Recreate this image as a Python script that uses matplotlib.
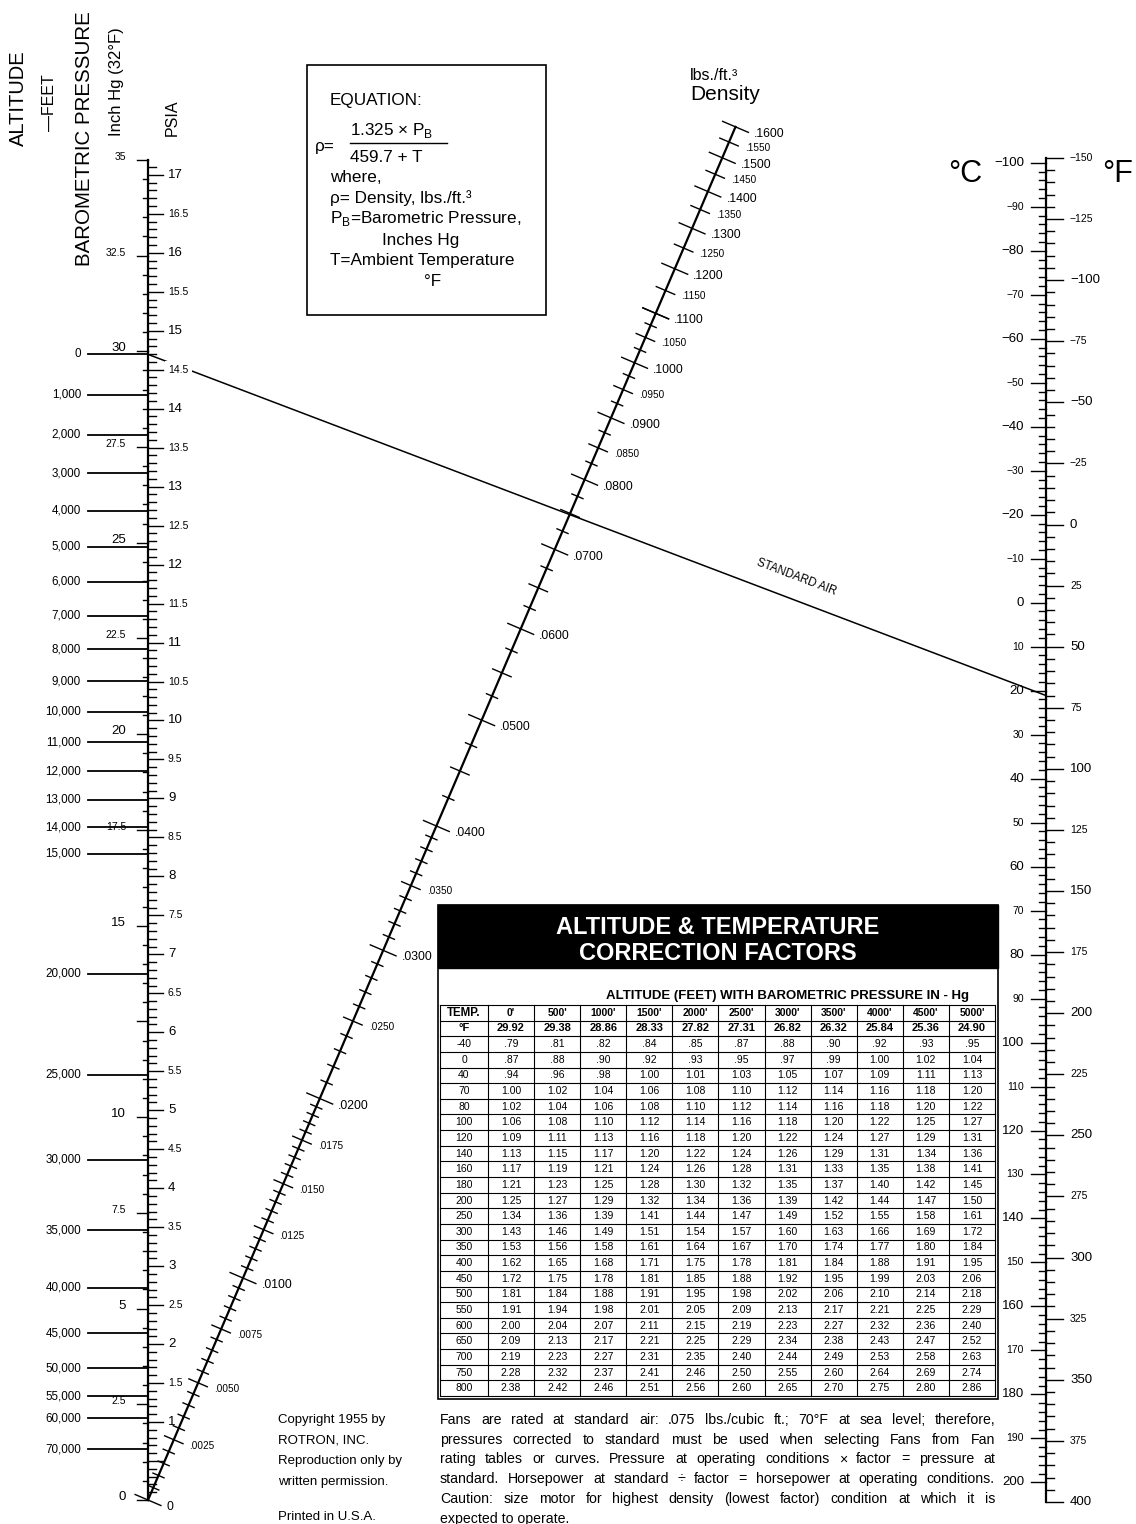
import numpy as np
import matplotlib.pyplot as plt
from matplotlib.patches import Rectangle

plt.rcParams['font.family'] = ['Liberation Sans', 'DejaVu Sans']
plt.rcParams['mathtext.fontset'] = 'custom'
plt.rcParams['mathtext.rm'] = 'Liberation Sans'

# ---- scale data ----
inhg_labels = [35, 32.5, 30, 27.5, 25, 22.5, 20, 17.5, 15, 10, 7.5, 5, 2.5, 0]
psia_labels = [17, 16.5, 16, 15.5, 15, 14.5, 14, 13.5, 13, 12.5, 12, 11.5, 11, 10.5, 10,
               9.5, 9, 8.5, 8, 7.5, 7, 6.5, 6, 5.5, 5, 4.5, 4, 3.5, 3, 2.5, 2, 1.5, 1]
alt_feet = [0, 1000, 2000, 3000, 4000, 5000, 6000, 7000, 8000, 9000, 10000, 11000, 12000,
            13000, 14000, 15000, 20000, 25000, 30000, 35000, 40000, 45000, 50000, 55000,
            60000, 70000]
alt_inhg = [29.92, 28.86, 27.82, 26.82, 25.84, 24.90, 23.98, 23.09, 22.22, 21.38, 20.58,
            19.79, 19.03, 18.29, 17.57, 16.88, 13.75, 11.10, 8.89, 7.04, 5.54, 4.36, 3.44,
            2.71, 2.14, 1.33]
dens_labels = [.16, .155, .15, .145, .14, .135, .13, .125, .12, .115, .11, .105, .10, .095,
               .09, .085, .08, .07, .06, .05, .04, .035, .03, .025, .02, .0175, .015, .0125,
               .01, .0075, .005, .0025, 0]
degf_labels = [-150, -125, -100, -75, -50, -25, 0, 25, 50, 75, 100, 125, 150, 175, 200, 225,
               250, 275, 300, 325, 350, 375, 400]
degc_labels = list(range(-100, 201, 10))
std_air_inhg = 29.92
std_air_f = 70

# ---- table data ----
tab_alt = ["0'", "500'", "1000'", "1500'", "2000'", "2500'", "3000'", "3500'", "4000'",
           "4500'", "5000'"]
tab_baro = [29.92, 29.38, 28.86, 28.33, 27.82, 27.31, 26.82, 26.32, 25.84, 25.36, 24.90]
tab_temp = [-40, 0, 40, 70, 80, 100, 120, 140, 160, 180, 200, 250, 300, 350, 400, 450, 500,
            550, 600, 650, 700, 750, 800]
tab_fac = [
    [.79, .81, .82, .84, .85, .87, .88, .90, .92, .93, .95],
    [.87, .88, .90, .92, .93, .95, .97, .99, 1.00, 1.02, 1.04],
    [.94, .96, .98, 1.00, 1.01, 1.03, 1.05, 1.07, 1.09, 1.11, 1.13],
    [1.00, 1.02, 1.04, 1.06, 1.08, 1.10, 1.12, 1.14, 1.16, 1.18, 1.20],
    [1.02, 1.04, 1.06, 1.08, 1.10, 1.12, 1.14, 1.16, 1.18, 1.20, 1.22],
    [1.06, 1.08, 1.10, 1.12, 1.14, 1.16, 1.18, 1.20, 1.22, 1.25, 1.27],
    [1.09, 1.11, 1.13, 1.16, 1.18, 1.20, 1.22, 1.24, 1.27, 1.29, 1.31],
    [1.13, 1.15, 1.17, 1.20, 1.22, 1.24, 1.26, 1.29, 1.31, 1.34, 1.36],
    [1.17, 1.19, 1.21, 1.24, 1.26, 1.28, 1.31, 1.33, 1.35, 1.38, 1.41],
    [1.21, 1.23, 1.25, 1.28, 1.30, 1.32, 1.35, 1.37, 1.40, 1.42, 1.45],
    [1.25, 1.27, 1.29, 1.32, 1.34, 1.36, 1.39, 1.42, 1.44, 1.47, 1.50],
    [1.34, 1.36, 1.39, 1.41, 1.44, 1.47, 1.49, 1.52, 1.55, 1.58, 1.61],
    [1.43, 1.46, 1.49, 1.51, 1.54, 1.57, 1.60, 1.63, 1.66, 1.69, 1.72],
    [1.53, 1.56, 1.58, 1.61, 1.64, 1.67, 1.70, 1.74, 1.77, 1.80, 1.84],
    [1.62, 1.65, 1.68, 1.71, 1.75, 1.78, 1.81, 1.84, 1.88, 1.91, 1.95],
    [1.72, 1.75, 1.78, 1.81, 1.85, 1.88, 1.92, 1.95, 1.99, 2.03, 2.06],
    [1.81, 1.84, 1.88, 1.91, 1.95, 1.98, 2.02, 2.06, 2.10, 2.14, 2.18],
    [1.91, 1.94, 1.98, 2.01, 2.05, 2.09, 2.13, 2.17, 2.21, 2.25, 2.29],
    [2.00, 2.04, 2.07, 2.11, 2.15, 2.19, 2.23, 2.27, 2.32, 2.36, 2.40],
    [2.09, 2.13, 2.17, 2.21, 2.25, 2.29, 2.34, 2.38, 2.43, 2.47, 2.52],
    [2.19, 2.23, 2.27, 2.31, 2.35, 2.40, 2.44, 2.49, 2.53, 2.58, 2.63],
    [2.28, 2.32, 2.37, 2.41, 2.46, 2.50, 2.55, 2.60, 2.64, 2.69, 2.74],
    [2.38, 2.42, 2.46, 2.51, 2.56, 2.60, 2.65, 2.70, 2.75, 2.80, 2.86],
]

notes = ["Fans are rated at standard air: .075 lbs./cubic ft.; 70°F at sea level; therefore,",
         "pressures corrected to standard must be used when selecting Fans from Fan",
         "rating tables or curves. Pressure at operating conditions × factor = pressure at",
         "standard. Horsepower at standard ÷ factor = horsepower at operating conditions.",
         "Caution: size motor for highest density (lowest factor) condition at which it is",
         "expected to operate."]
copyright = ["Copyright 1955 by", "ROTRON, INC.", "Reproduction only by", "written permission."]

# ---- nomogram scales (page units) ----
XL, XR = 148, 1046
YP0, BP = 1500, 38.29      # inHg scale
YT0, DT = 524.5, 2.4436    # deg F scale
PSI_PER_INHG = 0.4912


def y_p(p):
    return YP0 - BP * p


def y_psi(v):
    return y_p(v / PSI_PER_INHG)


def y_f(t):
    return YT0 + DT * t


def y_c(c):
    return y_f(c * 1.8 + 32)


def rho_xy(r):
    bk = BP * r / 1.325
    s = bk / (DT + bk)
    return XL + s * (XR - XL), (1 - s) * YP0 - 459.7 * s * DT + s * YT0


fig = plt.figure(figsize=(11.36, 15.24), dpi=100)
ax = fig.add_axes([0, 0, 1, 1])
ax.set_xlim(0, 1136)
ax.set_ylim(1524, 0)
ax.axis('off')
K = 'black'

# ---- left scale ----
ax.plot([XL, XL], [y_p(35), y_p(0)], color=K, lw=1.6)
for p in np.arange(0, 35.01, 0.5):
    big = abs(p / 2.5 - round(p / 2.5)) < 1e-6
    ax.plot([XL - (11 if big else 5), XL], [y_p(p)] * 2, color=K, lw=1.0)
for v in np.arange(0.1, 17.15, 0.1):
    big = abs(v * 2 - round(v * 2)) < 1e-6
    ax.plot([XL, XL + (15 if big else 8)], [y_psi(v)] * 2, color=K, lw=1.0)
for p in inhg_labels:
    txt = '0' if p == 0 else ('%g' % p)
    sz = 9.5 if (p % 5 == 0 and p not in (35,)) else 7.5
    ax.text(XL - 22, y_p(p) - 3, txt, ha='right', va='center', fontsize=sz)
for v in psia_labels:
    if v == 14.5:
        continue
    sz = 9.5 if v == int(v) else 7.5
    ax.text(XL + 20, y_psi(v), '%g' % v, ha='left', va='center', fontsize=sz)
for h, p in zip(alt_feet, alt_inhg):
    ax.plot([88, XL], [y_p(p)] * 2, color=K, lw=1.3)
    ax.text(81, y_p(p), '0' if h == 0 else f'{h:,}', ha='right', va='center', fontsize=8.4)

# ---- standard air line ----
ax.plot([XL, XR], [y_p(std_air_inhg), y_f(std_air_f)], color=K, lw=1.1, zorder=1)
ang = -np.degrees(np.arctan2(y_f(std_air_f) - y_p(std_air_inhg), XR - XL))
ax.text(796, 577, 'STANDARD AIR', rotation=ang, ha='center', va='center', fontsize=8.3,
        rotation_mode='anchor')
# 14.5 label sits over the line, with a white gap
ax.text(XL + 20, y_psi(14.5), '14.5', ha='left', va='center', fontsize=7.5, zorder=3,
        bbox=dict(facecolor='white', edgecolor='none', pad=2.5))

# ---- density scale ----
x0, y0 = rho_xy(0)
x1, y1 = rho_xy(.16)
ax.plot([x0, x1], [y0, y1], color=K, lw=1.6)
u = np.array([x1 - x0, y1 - y0]) / np.hypot(x1 - x0, y1 - y0)
n = np.array([-u[1], u[0]])
ticks = np.concatenate([np.arange(0, .02, .0005), np.arange(.02, .04, .001),
                        np.arange(.04, .11, .0025), np.arange(.11, .1601, .005)])
for r in ticks:
    r = round(r, 5)
    if abs(r * 100 - round(r * 100)) < 1e-6:
        half = 14
    elif abs(r * 200 - round(r * 200)) < 1e-6 or (abs(r * 400 - round(r * 400)) < 1e-6 and r < .02):
        half = 10
    else:
        half = 6
    if r >= .11 and half == 6:
        half = 9
    px, py = rho_xy(r)
    ax.plot([px - n[0] * half, px + n[0] * half], [py - n[1] * half, py + n[1] * half],
            color=K, lw=1.0)
for r in dens_labels:
    px, py = rho_xy(r)
    big = abs(r * 100 - round(r * 100)) < 1e-6
    off = 18 if big else 15
    txt = '0' if r == 0 else ('%.4f' % r)[1:]
    ax.text(px + n[0] * off + 2, py + n[1] * off, txt, ha='left', va='center',
            fontsize=8.8 if big else 7.2)
ax.text(690, 76, 'lbs./ft.³', ha='left', va='center', fontsize=11.5)
ax.text(690, 95, 'Density', ha='left', va='center', fontsize=15)

# ---- temperature scale ----
ax.plot([XR, XR], [y_f(-150), y_f(400)], color=K, lw=1.6)
for t in range(-150, 401, 5):
    ax.plot([XR, XR + (17 if t % 25 == 0 else 8)], [y_f(t)] * 2, color=K, lw=1.0)
for c in range(-100, 201, 2):
    ax.plot([XR - (15 if c % 10 == 0 else 7), XR], [y_c(c)] * 2, color=K, lw=1.0)
for t in degf_labels:
    big = t % 50 == 0 and t != -150
    txt = ('−%d' % -t) if t < 0 else str(t)
    ax.text(XR + 24, y_f(t), txt, ha='left', va='center', fontsize=9.5 if big else 7.5)
for c in degc_labels:
    big = c % 20 == 0
    txt = ('−%d' % -c) if c < 0 else str(c)
    ax.text(XR - 22, y_c(c), txt, ha='right', va='center', fontsize=9.5 if big else 7.5)
ax.text(965, 174, '°C', ha='center', va='center', fontsize=22)
ax.text(1118, 174, '°F', ha='center', va='center', fontsize=22)

# ---- left titles ----
ax.text(18, 146, 'ALTITUDE', rotation=90, ha='center', va='bottom', fontsize=14.5)
ax.text(50, 131, '—FEET', rotation=90, ha='center', va='bottom', fontsize=11.5)
ax.text(84, 266, 'BAROMETRIC PRESSURE', rotation=90, ha='center', va='bottom', fontsize=14.8)
ax.text(116, 136, 'Inch Hg (32°F)', rotation=90, ha='center', va='bottom', fontsize=12)
ax.text(172, 136, 'PSIA', rotation=90, ha='center', va='bottom', fontsize=11.5)

# ---- equation box ----
ax.add_patch(Rectangle((307, 65), 239, 250, fill=False, edgecolor=K, lw=1.2))
eq = 12.3
ax.text(330, 100, 'EQUATION:', ha='left', va='center', fontsize=eq)
ax.text(315, 146, 'ρ=', ha='left', va='center', fontsize=eq)
ax.text(350, 131, r'1.325 × P$_{\rm B}$', ha='left', va='center', fontsize=eq)
ax.plot([350, 447], [143, 143], color=K, lw=1.0)
ax.text(350, 157, '459.7 + T', ha='left', va='center', fontsize=eq)
ax.text(330, 178, 'where,', ha='left', va='center', fontsize=eq)
ax.text(330, 198, 'ρ= Density, lbs./ft.³', ha='left', va='center', fontsize=eq)
ax.text(330, 219, r'P$_{\rm B}$=Barometric Pressure,', ha='left', va='center', fontsize=eq)
ax.text(382, 240, 'Inches Hg', ha='left', va='center', fontsize=eq)
ax.text(330, 261, 'T=Ambient Temperature', ha='left', va='center', fontsize=eq)
ax.text(424, 282, '°F', ha='left', va='center', fontsize=eq)

# ---- correction factor table ----
TX0, TX1, TY0, TY1 = 438, 998, 905, 1399
ax.add_patch(Rectangle((TX0, TY0), TX1 - TX0, TY1 - TY0, fill=False, edgecolor=K, lw=1.2))
ax.add_patch(Rectangle((TX0, TY0), TX1 - TX0, 63, facecolor=K, edgecolor=K))
ax.text(718, 927, 'ALTITUDE & TEMPERATURE', color='white', ha='center', va='center',
        fontsize=17, fontweight='bold')
ax.text(718, 953, 'CORRECTION FACTORS', color='white', ha='center', va='center',
        fontsize=17, fontweight='bold')
ax.text(788, 996, 'ALTITUDE (FEET) WITH BAROMETRIC PRESSURE IN - Hg', ha='center',
        va='center', fontsize=9.5, fontweight='bold')

gx0, gw0, ncol = 440, 48, len(tab_alt)
gw = (995 - gx0 - gw0) / ncol
gy0 = 1005
nrow = 2 + len(tab_temp)
gh = (1396 - gy0) / nrow
col_edges = [gx0] + [gx0 + gw0 + i * gw for i in range(ncol + 1)]
for xe in col_edges:
    ax.plot([xe, xe], [gy0, gy0 + nrow * gh], color=K, lw=0.8)
for j in range(nrow + 1):
    ax.plot([gx0, col_edges[-1]], [gy0 + j * gh] * 2, color=K, lw=0.8)
centers = [(col_edges[i] + col_edges[i + 1]) / 2 for i in range(ncol + 1)]


def fmt(v):
    s = '%.2f' % v
    return s[1:] if v < 1 else s


rows = [['TEMP.'] + tab_alt, ['°F'] + ['%.2f' % b for b in tab_baro]]
rows += [[str(t)] + [fmt(v) for v in fr] for t, fr in zip(tab_temp, tab_fac)]
for j, row in enumerate(rows):
    yc = gy0 + (j + 0.5) * gh
    for i, cell in enumerate(row):
        if j == 0:
            sz, wt = (8.3 if i == 0 else 7.5), 'bold'
        elif j == 1:
            sz, wt = 8.0, 'bold'
        else:
            sz, wt = 7.5, 'normal'
        ax.text(centers[i], yc, cell, ha='center', va='center', fontsize=sz, fontweight=wt)

# ---- footer text ----
for i, line in enumerate(copyright):
    ax.text(278, 1420 + i * 20.6, line, ha='left', va='center', fontsize=9.5)
ax.text(278, 1517, 'Printed in U.S.A.', ha='left', va='center', fontsize=9.5)

renderer = fig.canvas.get_renderer()
for i, line in enumerate(notes):
    y = 1420 + i * 19.7
    if i == len(notes) - 1:
        ax.text(440, y, line, ha='left', va='center', fontsize=10.2)
        continue
    words = line.split()
    arts = [ax.text(0, y, w, ha='left', va='center', fontsize=10.2) for w in words]
    widths = [a.get_window_extent(renderer).width for a in arts]
    gap = (995 - 440 - sum(widths)) / (len(words) - 1)
    x = 440
    for a, w in zip(arts, widths):
        a.set_x(x)
        x += w + gap

fig.savefig('out.png', dpi=100, facecolor='white')
